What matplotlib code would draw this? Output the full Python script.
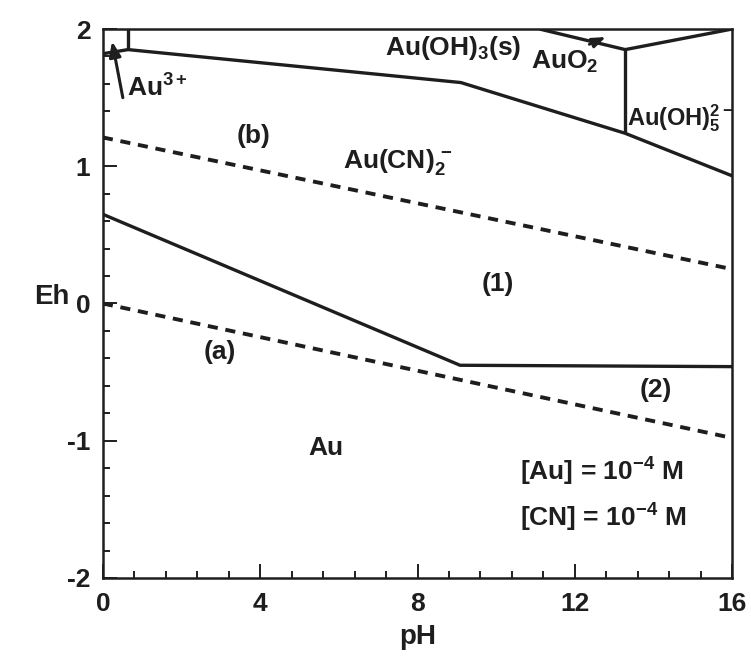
import matplotlib
matplotlib.use("Agg")
import matplotlib.pyplot as plt
from matplotlib.ticker import MultipleLocator

# Eh-pH diagram for the Au-CN-H2O system
INK = "#1e1e1e"

ph_ticks = [0, 4, 8, 12, 16]
eh_ticks = [-2, -1, 0, 1, 2]

# stability field boundaries (pH, Eh)
au3_ph = [0.64, 0.64]
au3_eh = [2.0, 1.85]
upper_ph = [0.0, 0.64, 9.1, 13.28, 16.0]
upper_eh = [1.82, 1.85, 1.61, 1.24, 0.93]
auo2_ph = [11.1, 13.28, 16.0]
auo2_eh = [2.0, 1.85, 2.0]
hydroxo_ph = [13.28, 13.28]
hydroxo_eh = [1.85, 1.24]
lower_ph = [0.0, 9.08, 16.0]
lower_eh = [0.65, -0.45, -0.46]

# water stability lines
water_a_ph = [0.0, 16.0]
water_a_eh = [0.0, -0.98]
water_b_ph = [0.0, 16.0]
water_b_eh = [1.21, 0.25]

plt.rcParams["font.family"] = ["Liberation Sans", "DejaVu Sans"]
plt.rcParams["font.weight"] = "bold"
plt.rcParams["axes.labelweight"] = "bold"
plt.rcParams["axes.unicode_minus"] = False
plt.rcParams["mathtext.fontset"] = "custom"
plt.rcParams["mathtext.rm"] = "Liberation Sans:bold"
plt.rcParams["mathtext.bf"] = "Liberation Sans:bold"
plt.rcParams["mathtext.it"] = "Liberation Sans:bold"
plt.rcParams["mathtext.default"] = "bf"

fig = plt.figure(figsize=(7.51, 6.61), dpi=100)
ax = fig.add_axes([0.137, 0.1256, 0.838, 0.8305])

lw = 2.4
for xs, ys in [(au3_ph, au3_eh), (upper_ph, upper_eh), (auo2_ph, auo2_eh),
               (hydroxo_ph, hydroxo_eh), (lower_ph, lower_eh)]:
    ax.plot(xs, ys, color=INK, lw=lw, solid_capstyle="butt", solid_joinstyle="miter")

for xs, ys in [(water_a_ph, water_a_eh), (water_b_ph, water_b_eh)]:
    ax.plot(xs, ys, color=INK, lw=2.8, dashes=(2.6, 2.0))

fs = 19
ax.text(0.62, 1.57, r"Au$^{3+}$", fontsize=fs, ha="left", va="center", color=INK)
ax.annotate("", xy=(0.22, 1.93), xytext=(0.52, 1.48),
            arrowprops=dict(arrowstyle="-|>,head_length=0.9,head_width=0.35",
                            color=INK, lw=2.2))
ax.text(8.9, 1.86, r"Au(OH)$_3$(s)", fontsize=fs, ha="center", va="center", color=INK)
ax.text(11.75, 1.76, r"AuO$_2$", fontsize=fs, ha="center", va="center", color=INK)
ax.annotate("", xy=(12.85, 1.95), xytext=(12.3, 1.88),
            arrowprops=dict(arrowstyle="-|>,head_length=0.8,head_width=0.3",
                            color=INK, lw=2.0))
ax.text(13.33, 1.35, r"Au(OH)$_5^{2-}$", fontsize=17, ha="left", va="center", color=INK)
ax.text(7.5, 1.03, r"Au(CN)$_2^{\,-}$", fontsize=fs, ha="center", va="center", color=INK)
ax.text(3.82, 1.22, "(b)", fontsize=fs, ha="center", va="center", color=INK)
ax.text(10.05, 0.14, "(1)", fontsize=fs, ha="center", va="center", color=INK)
ax.text(2.98, -0.35, "(a)", fontsize=fs, ha="center", va="center", color=INK)
ax.text(14.05, -0.63, "(2)", fontsize=fs, ha="center", va="center", color=INK)
ax.text(5.67, -1.05, "Au", fontsize=fs, ha="center", va="center", color=INK)
ax.text(10.6, -1.23, r"[Au] = 10$^{-4}$ M", fontsize=fs, ha="left", va="center", color=INK)
ax.text(10.6, -1.56, r"[CN] = 10$^{-4}$ M", fontsize=fs, ha="left", va="center", color=INK)

ax.set_xlim(0, 16)
ax.set_ylim(-2, 2)
ax.set_xticks(ph_ticks)
ax.set_yticks(eh_ticks)
ax.xaxis.set_minor_locator(MultipleLocator(0.8))
ax.yaxis.set_minor_locator(MultipleLocator(0.2))
ax.tick_params(which="both", direction="in", color=INK, width=1.4,
               labelsize=19, labelcolor=INK)
ax.tick_params(which="major", length=10)
ax.tick_params(axis="x", which="major", pad=10)
ax.tick_params(axis="y", which="major", pad=9)
ax.tick_params(which="minor", length=5)
for spine in ax.spines.values():
    spine.set_linewidth(1.8)
    spine.set_color(INK)

fig.text(52 / 751, 1 - 297 / 661, "Eh", fontsize=20, ha="center", va="center", color=INK)
ax.set_xlabel("pH", fontsize=20, color=INK, labelpad=6)

fig.savefig("out.png", dpi=100)
